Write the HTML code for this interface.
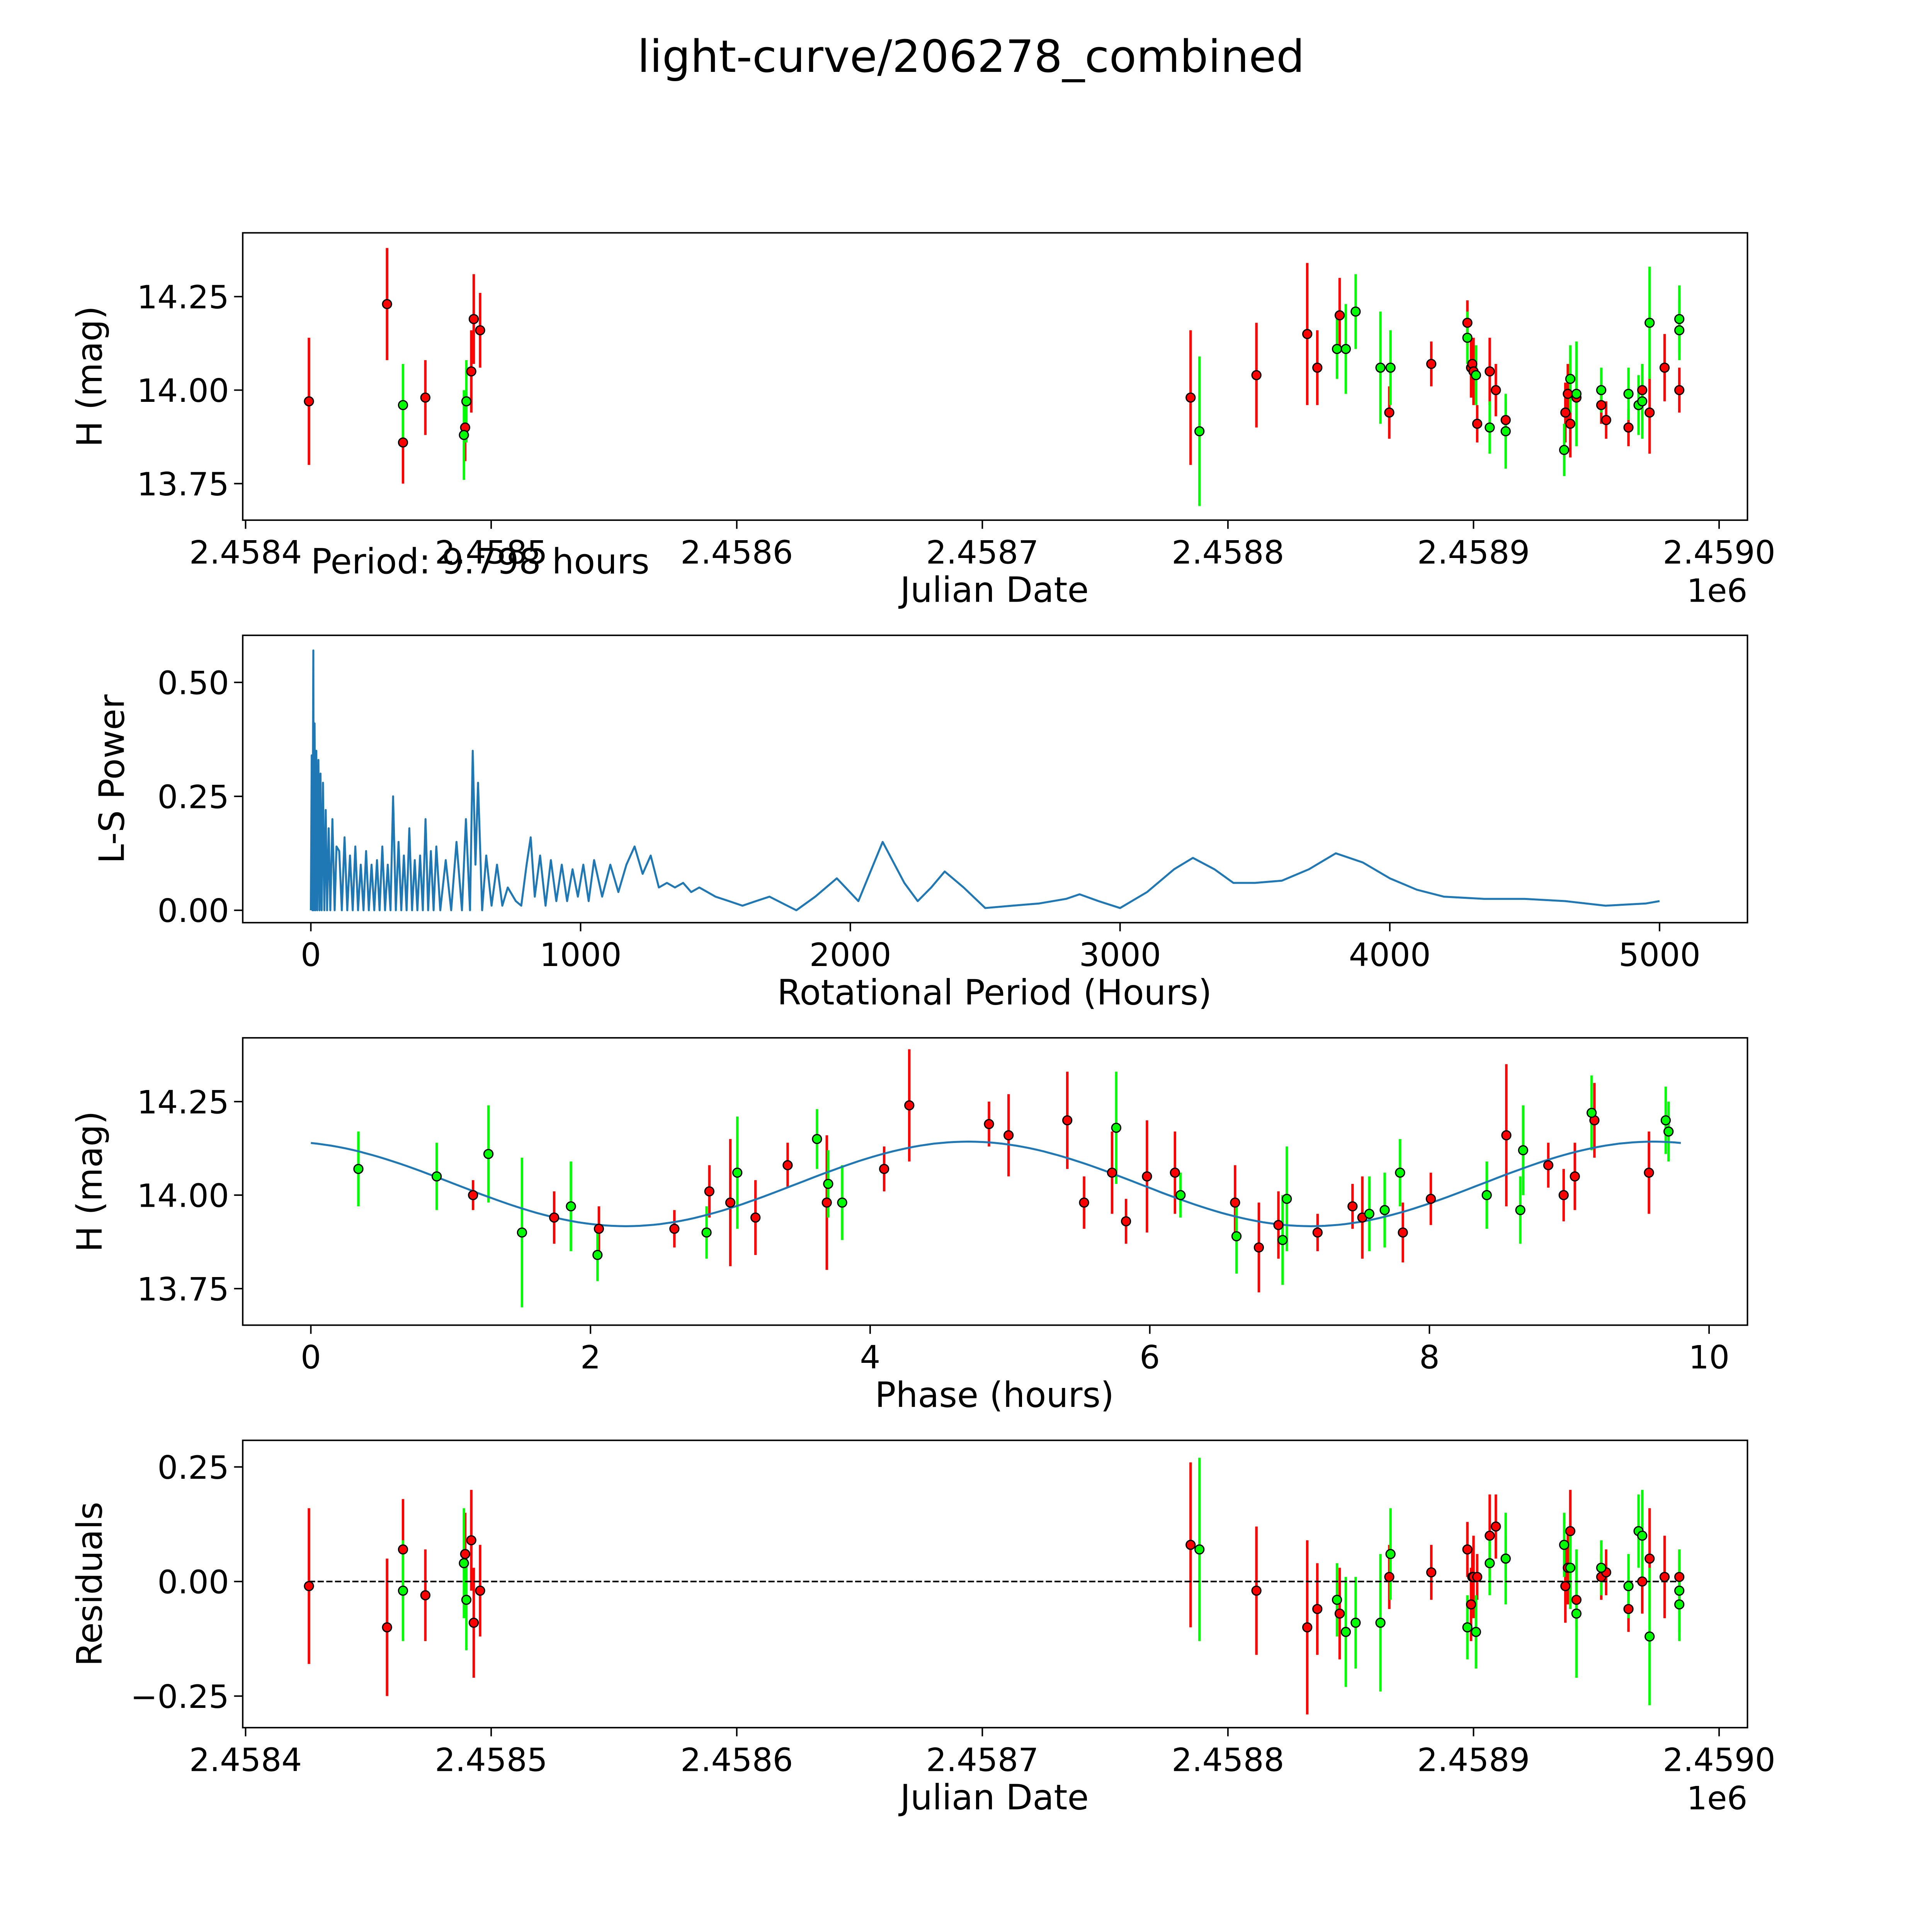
<!DOCTYPE html>
<html><head><meta charset="utf-8"><style>
html,body{margin:0;padding:0;background:#fff;width:100%;height:100%;overflow:hidden}
svg{display:block;position:fixed;left:0;top:0;width:100vw;height:100vh}
text{font-family:"DejaVu Sans","Liberation Sans",sans-serif;fill:#000}
</style></head><body>
<svg id="chart" xmlns="http://www.w3.org/2000/svg" viewBox="0 0 1560 1560" preserveAspectRatio="none">
<rect width="1560" height="1560" fill="#fff"/>
<text x="784" y="58" font-size="36" text-anchor="middle">light-curve/206278_combined</text>
<g id="g"></g>
</svg>
<script>
// ---- data: light curve (JD offset from 2458400, days) ----
const redJD=[25.8,57.6,64.1,73.2,89.4,91.9,92.9,95.5,384.8,411.6,432.3,436.4,445.5,465.7,482.8,497.5,499.0,499.5,500.0,501.5,506.6,509.1,513.1,537.4,538.4,539.4,541.9,552.0,554.0,563.1,568.7,571.7,577.8,583.8];
const redMag=[13.97,14.23,13.86,13.98,13.90,14.05,14.19,14.16,13.98,14.04,14.15,14.06,14.20,13.94,14.07,14.18,14.06,14.07,14.05,13.91,14.05,14.00,13.92,13.94,13.99,13.91,13.98,13.96,13.92,13.90,14.00,13.94,14.06,14.00];
const redErr=[0.17,0.15,0.11,0.1,0.09,0.11,0.12,0.1,0.18,0.14,0.19,0.1,0.1,0.07,0.06,0.06,0.08,0.06,0.09,0.05,0.09,0.07,0.05,0.08,0.08,0.09,0.06,0.05,0.05,0.05,0.07,0.11,0.09,0.06];
const grnJD=[64.1,88.9,89.9,388.4,444.4,448.0,452.0,462.1,466.2,497.5,501.0,506.6,513.1,536.9,539.4,541.9,552.0,563.1,567.2,568.7,571.7,583.8,583.8];
const grnMag=[13.96,13.88,13.97,13.89,14.11,14.11,14.21,14.06,14.06,14.14,14.04,13.90,13.89,13.84,14.03,13.99,14.00,13.99,13.96,13.97,14.18,14.19,14.16];
const grnErr=[0.11,0.12,0.11,0.2,0.08,0.12,0.1,0.15,0.1,0.07,0.08,0.07,0.1,0.07,0.09,0.14,0.06,0.07,0.08,0.1,0.15,0.09,0.08];
// ---- residuals ----
const redRes=[-0.01,-0.10,0.07,-0.03,0.06,0.09,-0.09,-0.02,0.08,-0.02,-0.10,-0.06,-0.07,0.01,0.02,0.07,-0.05,0.01,0.01,0.01,0.10,0.12,0.05,-0.01,0.03,0.11,-0.04,0.01,0.02,-0.06,0.00,0.05,0.01,0.01];
const grnRes=[-0.02,0.04,-0.04,0.07,-0.04,-0.11,-0.09,-0.09,0.06,-0.10,-0.11,0.04,0.05,0.08,0.03,-0.07,0.03,-0.01,0.11,0.10,-0.12,-0.02,-0.05];
// ---- phase-folded ----
const redPh=[1.16,1.74,2.06,2.60,2.85,3.00,3.18,3.41,3.69,4.10,4.28,4.85,4.99,5.41,5.53,5.73,5.83,5.98,6.18,6.61,6.78,6.92,7.20,7.45,7.52,7.81,8.01,8.55,8.85,8.96,9.04,9.18,9.57];
const redPhMag=[14.00,13.94,13.91,13.91,14.01,13.98,13.94,14.08,13.98,14.07,14.24,14.19,14.16,14.20,13.98,14.06,13.93,14.05,14.06,13.98,13.86,13.92,13.90,13.97,13.94,13.90,13.99,14.16,14.08,14.00,14.05,14.20,14.06];
const redPhErr=[0.04,0.07,0.06,0.05,0.07,0.17,0.1,0.06,0.18,0.06,0.15,0.06,0.11,0.13,0.07,0.11,0.06,0.15,0.11,0.1,0.12,0.09,0.05,0.06,0.11,0.08,0.07,0.19,0.06,0.07,0.09,0.1,0.11];
const grnPh=[0.34,0.90,1.27,1.51,1.86,2.05,2.83,3.05,3.62,3.70,3.80,5.76,6.22,6.62,6.95,6.98,7.57,7.68,7.79,8.41,8.65,8.67,9.16,9.69,9.71];
const grnPhMag=[14.07,14.05,14.11,13.90,13.97,13.84,13.90,14.06,14.15,14.03,13.98,14.18,14.00,13.89,13.88,13.99,13.95,13.96,14.06,14.00,13.96,14.12,14.22,14.20,14.17];
const grnPhErr=[0.1,0.09,0.13,0.2,0.12,0.07,0.07,0.15,0.08,0.09,0.1,0.15,0.06,0.1,0.12,0.14,0.1,0.1,0.09,0.09,0.09,0.12,0.1,0.09,0.08];
const fitMean=14.03, fitAmp=0.113, fitPeak=4.7, period=9.798;
// ---- periodogram (hours, power) ----
const lsPeriodA=[0,3,6,9,11,14,17,20,24,28,32,36,40,45,50,55,60,66,72,80,88,95];
const lsPowerA=[0,0.34,0,0.57,0,0.41,0,0.35,0,0.33,0,0.3,0,0.28,0,0.22,0,0.18,0,0.2,0,0.14];
const lsPeriodB=[105,115,125,135,145,155,165,175,185,195,205,215,225,235,245,255,265,275,285,295,305,315,325,335,345,355,365,375,385,395,405,415,425,435,445,455,465];
const lsPowerB=[0.13,0,0.16,0,0.12,0,0.14,0,0.1,0,0.13,0,0.1,0,0.11,0,0.14,0,0.1,0,0.25,0,0.15,0,0.12,0,0.18,0,0.11,0,0.12,0,0.2,0,0.13,0,0.14];
const lsPeriodC=[480,500,520,540,560,575,590,600,610,620,635,650,670,690,710,730,760,780];
const lsPowerC=[0,0.11,0,0.15,0,0.2,0,0.35,0.1,0.28,0,0.12,0.01,0.1,0.01,0.05,0.02,0.01];
const lsPeriodD=[800,815,830,850,870,890,910,930,950,970,990,1010,1030,1050,1080,1110,1140,1170,1200,1230,1260,1290,1320,1350,1380,1410,1440,1470,1500];
const lsPowerD=[0.1,0.16,0.03,0.12,0.01,0.11,0.02,0.1,0.02,0.09,0.03,0.1,0.02,0.11,0.03,0.1,0.04,0.1,0.14,0.08,0.12,0.05,0.06,0.05,0.06,0.04,0.05,0.04,0.03];
const lsPeriodE=[1550,1600,1650,1700,1750,1800,1870,1950,2030,2120,2200,2250,2300,2350,2420,2500,2600,2700,2800,2850,2920,3000,3100,3200,3270,3350,3420,3500,3600,3700,3800,3900,4000,4100,4200,4350,4500,4650,4800,4950,5000];
const lsPowerE=[0.02,0.01,0.02,0.03,0.015,0,0.03,0.07,0.02,0.15,0.06,0.02,0.05,0.085,0.05,0.005,0.01,0.015,0.025,0.035,0.02,0.005,0.04,0.09,0.115,0.09,0.06,0.06,0.065,0.09,0.125,0.105,0.07,0.045,0.03,0.025,0.025,0.02,0.01,0.015,0.02];
const lsPeriod=lsPeriodA.concat(lsPeriodB,lsPeriodC,lsPeriodD,lsPeriodE);
const lsPower=lsPowerA.concat(lsPowerB,lsPowerC,lsPowerD,lsPowerE);

const NS="http://www.w3.org/2000/svg";
const G=document.getElementById('g');
function el(tag,attrs,parent){const e=document.createElementNS(NS,tag);for(const k in attrs)e.setAttribute(k,attrs[k]);(parent||G).appendChild(e);return e;}
function txt(s,attrs,parent){const e=el('text',attrs,parent);e.textContent=s;return e;}

const xJD=d=>198.3+(d)*1.983;
const y1=m=>315-(m-14)*302;
const xLS=p=>251+p*0.2178;
const y2=p=>735-p*368;
const xPh=p=>251+p*112.9;
const y3=m=>965-(m-14)*302;
const y4=r=>1277-r*370;
const TF=26, LF=28;

function panel(name,top,bot,xt,yt,xlab,xlabY,ylab,ylabX,exp){
  const g=el('g',{});
  
  
  xt.forEach(t=>{el('line',{x1:t[0],x2:t[0],y1:bot,y2:bot+7,stroke:'#000','stroke-width':1.2},g);
    const tl=txt(t[1],{x:t[0],y:bot+35,'font-size':TF,'text-anchor':'middle'},g);
    });
  yt.forEach(t=>{el('line',{x1:189,x2:196,y1:t[0],y2:t[0],stroke:'#000','stroke-width':1.2},g);
    const tl=txt(t[1],{x:185,y:t[0]+9.5,'font-size':TF,'text-anchor':'end'},g);
    });
  const xl=txt(xlab,{x:803,y:xlabY,'font-size':LF,'text-anchor':'middle'},g);
  
  const cy=(top+bot)/2;
  const yl=txt(ylab,{x:ylabX,y:cy,'font-size':LF,'text-anchor':'middle',transform:`rotate(-90 ${ylabX} ${cy})`},g);
  
  if(exp){const e=txt('1e6',{x:1411,y:xlabY,'font-size':TF,'text-anchor':'end'},g);
    }
  return g;
}
function frame(top,bot){const r=el('rect',{x:196,y:top,width:1215,height:bot-top,fill:'none',stroke:'#000','stroke-width':1.2});
  }
function bars(xs,ys,errs,fx,fy,color,name){
  const g=el('g',{});
  
  
  for(let i=0;i<xs.length;i++){
    const x=fx(xs[i]);
    const e=el('line',{x1:x,x2:x,y1:fy(ys[i]-errs[i]),y2:fy(ys[i]+errs[i]),stroke:color==='red'?'#ff0000':'#00ff00','stroke-width':2},g);
    
  }
}
function dots(xs,ys,fx,fy,color,name){
  const g=el('g',{});
  
  
  for(let i=0;i<xs.length;i++){
    const c=el('circle',{cx:fx(xs[i]),cy:fy(ys[i]),r:3.6,fill:color==='red'?'#ff0000':'#00ff00',stroke:'#000','stroke-width':1},g);
    
  }
}
const jdTicks=[0,100,200,300,400,500,600].map((d,i)=>[xJD(d),(2.4584+i*0.0001).toFixed(4)]);
const magTicks=[[y1(14.25),'14.25'],[y1(14.0),'14.00'],[y1(13.75),'13.75']];

// Panel 1
panel('light-curve-panel',188,420,jdTicks,magTicks,'Julian Date',486,'H (mag)',82,true);
bars(redJD,redMag,redErr,xJD,y1,'red','red-error-bars');
bars(grnJD,grnMag,grnErr,xJD,y1,'green','green-error-bars');
dots(redJD,redMag,xJD,y1,'red','red-band-series');
dots(grnJD,grnMag,xJD,y1,'green','green-band-series');
frame(188,420);
const pt=txt('Period: 9.798 hours',{x:251,y:463,'font-size':LF});


// Panel 2
panel('periodogram-panel',513,745,[0,1000,2000,3000,4000,5000].map(v=>[xLS(v),String(v)]),
  [[y2(0.5),'0.50'],[y2(0.25),'0.25'],[y2(0),'0.00']],'Rotational Period (Hours)',811,'L-S Power',100,false);
const lsPts=lsPeriod.map((p,i)=>xLS(p).toFixed(1)+','+y2(lsPower[i]).toFixed(1)).join(' ');
const ls=el('polyline',{points:lsPts,fill:'none',stroke:'#1f77b4','stroke-width':1.6,'stroke-linejoin':'round'});

frame(513,745);

// Panel 3
panel('phase-folded-panel',838,1070,[0,2,4,6,8,10].map(v=>[xPh(v),String(v)]),
  [[y3(14.25),'14.25'],[y3(14.0),'14.00'],[y3(13.75),'13.75']],'Phase (hours)',1136,'H (mag)',82,false);
bars(redPh,redPhMag,redPhErr,xPh,y3,'red','red-phase-error-bars');
bars(grnPh,grnPhMag,grnPhErr,xPh,y3,'green','green-phase-error-bars');
const fp=[];for(let i=0;i<=200;i++){const p=period*i/200;fp.push(xPh(p).toFixed(1)+','+y3(fitMean+fitAmp*Math.cos(4*Math.PI*(p-fitPeak)/period)).toFixed(1));}
const fit=el('polyline',{points:fp.join(' '),fill:'none',stroke:'#1f77b4','stroke-width':1.6});

dots(redPh,redPhMag,xPh,y3,'red','red-phase-series');
dots(grnPh,grnPhMag,xPh,y3,'green','green-phase-series');
frame(838,1070);

// Panel 4
panel('residuals-panel',1163,1395,jdTicks,[[y4(0.25),'0.25'],[y4(0),'0.00'],[y4(-0.25),'\u22120.25']],'Julian Date',1461,'Residuals',82,true);
bars(redJD,redRes,redErr,xJD,y4,'red','red-residual-error-bars');
bars(grnJD,grnRes,grnErr,xJD,y4,'green','green-residual-error-bars');
const zl=el('line',{x1:xJD(redJD[0]),x2:xJD(583.8),y1:y4(0),y2:y4(0),stroke:'#000','stroke-width':1.3,'stroke-dasharray':'5,2'});

dots(redJD,redRes,xJD,y4,'red','red-residual-series');
dots(grnJD,grnRes,xJD,y4,'green','green-residual-series');
frame(1163,1395);
</script>
</body></html>
